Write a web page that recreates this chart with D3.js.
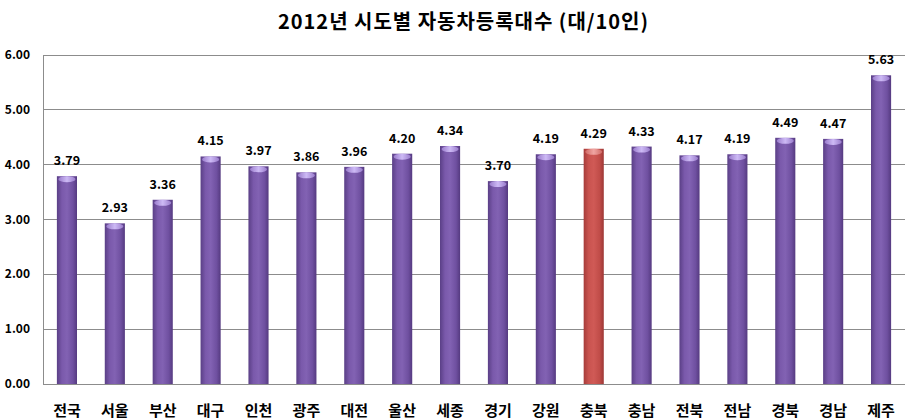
<!DOCTYPE html>
<html><head><meta charset="utf-8">
<script src="https://cdn.jsdelivr.net/npm/d3@7"></script>
<style>body{margin:0;background:#fff;}svg{display:block;}</style>
</head><body>
<script>
const categories = ["전국","서울","부산","대구","인천","광주","대전","울산","세종","경기","강원","충북","충남","전북","전남","경북","경남","제주"];
const values = [3.79,2.93,3.36,4.15,3.97,3.86,3.96,4.20,4.34,3.70,4.19,4.29,4.33,4.17,4.19,4.49,4.47,5.63];
const highlight = ["충북"];
const yTicks = [0,1,2,3,4,5,6];
const title = "2012년 시도별 자동차등록대수 (대/10인)";

const W = 922, H = 420;
const m = {left:43, right:17, top:55, bottom:36};
const font = "'Noto Sans CJK KR','Noto Sans',sans-serif";
const svg = d3.select("body").append("svg").attr("width",W).attr("height",H);
const defs = svg.append("defs");
function grad(id, stops){
  const g = defs.append("linearGradient").attr("id",id).attr("x1","0").attr("x2","1").attr("y1","0").attr("y2","0");
  stops.forEach(s=>g.append("stop").attr("offset",s[0]).attr("stop-color",s[1]));
}
grad("gp",[[0,"#5a3f86"],[0.25,"#7a59ab"],[0.5,"#8262b3"],[0.8,"#6f50a0"],[1,"#553a80"]]);
grad("gr",[[0,"#a63c3a"],[0.25,"#c9534f"],[0.5,"#d05a56"],[0.8,"#c04c48"],[1,"#9c3735"]]);
grad("gpt",[[0,"#9a7ccc"],[0.5,"#cdbaf5"],[1,"#9a7ccc"]]);
grad("grt",[[0,"#d06a66"],[0.5,"#f0a5a2"],[1,"#d06a66"]]);

const x = d3.scaleBand().domain(categories).range([m.left, W-m.right]).paddingInner(0.58).paddingOuter(0.29);
const y = d3.scaleLinear().domain([0,6]).range([H-m.bottom, m.top]);

// gridlines
svg.append("g").selectAll("line").data(yTicks.filter(d=>d>0)).join("line")
  .attr("x1",m.left).attr("x2",W-m.right).attr("y1",d=>y(d)).attr("y2",d=>y(d))
  .attr("stroke","#8c8c8c").attr("stroke-width",1).attr("shape-rendering","crispEdges");

// y axis labels
svg.append("g").selectAll("text").data(yTicks).join("text")
  .attr("x",30).attr("y",d=>y(d)+4).attr("text-anchor","end")
  .attr("font-family",font).attr("font-weight","bold").attr("font-size",12).attr("fill","#000")
  .text(d=>d3.format(".2f")(d));

// bars
const bars = svg.append("g").selectAll("g").data(categories).join("g");
bars.append("rect")
  .attr("x",d=>x(d)).attr("width",x.bandwidth())
  .attr("y",(d,i)=>y(values[i])).attr("height",(d,i)=>y(0)-y(values[i]))
  .attr("fill",d=>highlight.includes(d)?"url(#gr)":"url(#gp)");
bars.append("ellipse")
  .attr("cx",d=>x(d)+x.bandwidth()/2).attr("cy",(d,i)=>y(values[i])+3)
  .attr("rx",x.bandwidth()/2-1.5).attr("ry",3)
  .attr("fill",d=>highlight.includes(d)?"url(#grt)":"url(#gpt)");

// value labels
svg.append("g").selectAll("text").data(categories).join("text")
  .attr("x",d=>x(d)+x.bandwidth()/2).attr("y",(d,i)=>y(values[i])-11)
  .attr("text-anchor","middle").attr("font-family",font).attr("font-weight","bold")
  .attr("font-size",12.5).attr("fill","#000")
  .text((d,i)=>d3.format(".2f")(values[i]));

// axes lines
svg.append("line").attr("x1",m.left).attr("x2",m.left).attr("y1",y(6)).attr("y2",y(0))
  .attr("stroke","#8c8c8c").attr("shape-rendering","crispEdges");
svg.append("line").attr("x1",m.left).attr("x2",W-m.right).attr("y1",y(0)).attr("y2",y(0))
  .attr("stroke","#8c8c8c").attr("shape-rendering","crispEdges");

// category labels
svg.append("g").selectAll("text").data(categories).join("text")
  .attr("x",d=>x(d)+x.bandwidth()/2).attr("y",H-4)
  .attr("text-anchor","middle").attr("font-family",font).attr("font-weight","bold")
  .attr("font-size",15).attr("fill","#000").text(d=>d);

// title
svg.append("text").attr("x",463).attr("y",29).attr("text-anchor","middle")
  .attr("font-family",font).attr("font-weight","bold").attr("font-size",20).attr("fill","#000")
  .attr("textLength",370).attr("lengthAdjust","spacing")
  .text(title);
</script>
</body></html>
